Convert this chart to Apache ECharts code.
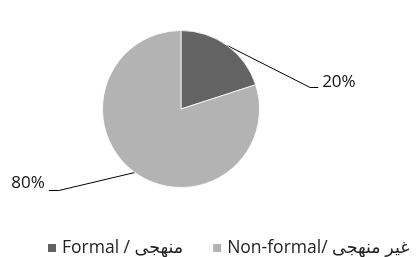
<!DOCTYPE html>
<html><head><meta charset="utf-8">
<script src="https://cdn.jsdelivr.net/npm/echarts@6/dist/echarts.min.js"></script>
<style>html,body{margin:0;padding:0;background:#fff}#c{width:416px;height:257px}</style>
</head><body><div id="c"></div>
<script>
var categories = ['Formal / منهجی', 'Non-formal/ غیر منهجی'];
var values = [20, 80];
var labels = ['20%', '80%'];
var colors = ['#636363', '#b3b3b3'];

var FONT = '"Open Sans", "DejaVu Sans", sans-serif';
var chart = echarts.init(document.getElementById('c'), null, {renderer: 'canvas'});
// leader-line geometry relative to the slice edge point: [bendDx, bendDy, endDx, labelDx, labelDy, align]
var leader = [
  [83, 42, 91, 95, 37, 'left'],
  [-76, 18, -86, -90, 11, 'right']
];
chart.setOption({
  animation: false,
  legend: {
    bottom: -5,
    left: 41,
    icon: 'rect',
    itemWidth: 10,
    itemHeight: 10,
    itemGap: 28,
    textStyle: {fontFamily: FONT, fontSize: 17.5, color: '#222'},
    data: categories
  },
  series: [{
    type: 'pie',
    center: [181, 109],
    radius: 78.5,
    startAngle: 90,
    clockwise: true,
    itemStyle: {borderColor: '#fff', borderWidth: 0.8},
    label: {show: true, position: 'outside', fontFamily: FONT, fontSize: 17, color: '#111',
      formatter: function (p) { return labels[p.dataIndex]; }},
    labelLine: {show: true, lineStyle: {color: '#000', width: 1}},
    labelLayout: function (p) {
      var L = leader[p.dataIndex];
      var s = p.labelLinePoints[0];
      return {
        x: s[0] + L[3], y: s[1] + L[4], align: L[5], verticalAlign: 'middle',
        labelLinePoints: [s, [s[0] + L[0], s[1] + L[1]], [s[0] + L[2], s[1] + L[1]]]
      };
    },
    emphasis: {disabled: true},
    data: categories.map(function (c, i) {
      return {name: c, value: values[i], itemStyle: {color: colors[i]}};
    })
  }]
});
</script></body></html>
